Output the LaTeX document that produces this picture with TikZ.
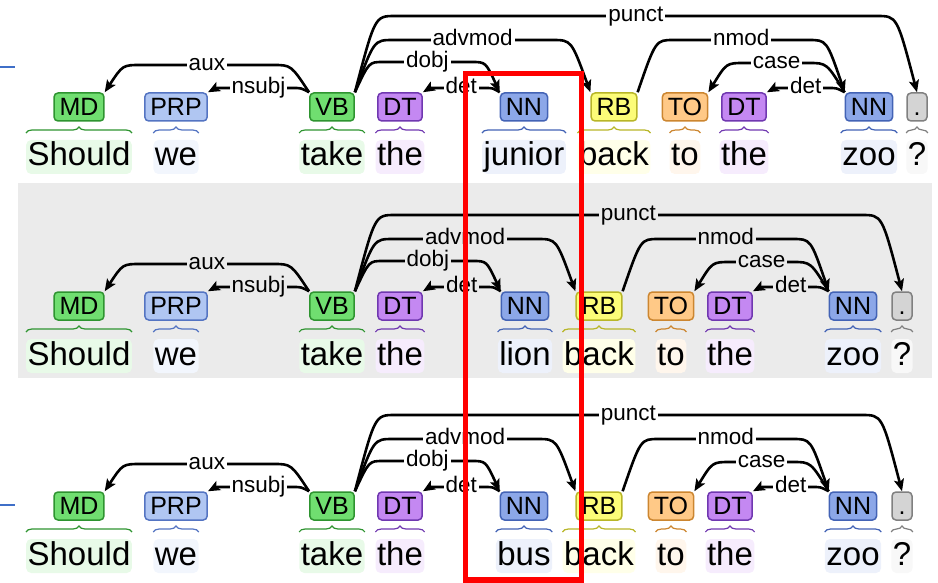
\documentclass[tikz,border=0pt]{standalone}
\usepackage{fontspec}
\setmainfont{Liberation Sans}
\usetikzlibrary{calc,arrows.meta,decorations.pathreplacing}

% part-of-speech colours: fill (F) and border (D)
\definecolor{grnF}{HTML}{70DE70}\definecolor{grnD}{HTML}{2E9430}
\definecolor{nnF}{HTML}{8CA7E8}\definecolor{nnD}{HTML}{4363B5}
\definecolor{prpF}{HTML}{B0C6F2}\definecolor{prpD}{HTML}{5474C2}
\definecolor{dtF}{HTML}{C488F2}\definecolor{dtD}{HTML}{7038B0}
\definecolor{rbF}{HTML}{FCFC78}\definecolor{rbD}{HTML}{B8B628}
\definecolor{toF}{HTML}{FFC987}\definecolor{toD}{HTML}{CC8630}
\definecolor{ptF}{HTML}{D4D4D4}\definecolor{ptD}{HTML}{808080}
\definecolor{panelgray}{HTML}{EBEBEB}
\definecolor{markblue}{HTML}{3F6FC8}

\tikzset{
  tag/.style={rounded corners=4pt, line width=1.5pt, font=\fontsize{25}{25}\selectfont,
    minimum height=28pt, minimum width=20pt, inner xsep=5.5pt, inner ysep=0pt,
    text height=17.5pt, text depth=0pt},
  word/.style={rounded corners=5pt, font=\fontsize{33}{33}\selectfont, anchor=base,
    inner xsep=1.5pt, inner ysep=1pt, text height=25pt, text depth=7pt},
  brc/.style={decorate, decoration={brace, amplitude=6pt}, line width=1.2pt},
  lblfill/.style={fill=white},
  lbl/.style={lblfill, font=\fontsize{22.5}{22.5}\selectfont, inner xsep=2pt,
    inner ysep=0.5pt, anchor=base, yshift=-5.8pt},
  deparc/.style={line width=2.6pt, -{Stealth[length=12pt,width=10pt,inset=2.5pt]}},
}

% one token: tag box, word, and the brace joining them
% #1 prefix, #2 name, #3 x, #4 y offset, #5 tag, #6 word, #7 colour
\newcommand\wordtok[7]{%
  \node[tag, fill=#7F, draw=#7D] (#1#2) at (#3,{#4+107}) {#5};
  \node[word, fill=#7F!16] (#1w#2) at (#3,{#4+166}) {#6};
  \draw[brc, draw=#7D] (#1w#2.west |- 0,{#4+133}) -- (#1w#2.east |- 0,{#4+133});
}

% dependency arc: #1 head anchor, #2 dependent anchor, #3 level, #4 relation, #5 signed bend width
\newcommand\deparc[5]{%
  \draw[deparc] (#1) .. controls ($(#1 |- 0,{#3})+({0.5*(#5)},0)$) .. ($(#1 |- 0,{#3})+({#5},0)$)
    -- node[lbl]{#4} ($(#2 |- 0,{#3})+({-(#5)},0)$)
    .. controls ($(#2 |- 0,{#3})+({-0.5*(#5)},0)$) .. (#2);}

% a whole parsed sentence
% #1 prefix, #2 y offset, #3 noun, #4..#9 x of NN, RB, TO, DT, NN, punct
\newcommand\depsentence[9]{%
  \wordtok{#1}{md}{79}{#2}{MD}{Should}{grn}
  \wordtok{#1}{prp}{176}{#2}{PRP}{we}{prp}
  \wordtok{#1}{vb}{332}{#2}{VB}{take}{grn}
  \wordtok{#1}{dt}{400}{#2}{DT}{the}{dt}
  \wordtok{#1}{nn}{#4}{#2}{NN}{#3}{nn}
  \wordtok{#1}{rb}{#5}{#2}{RB}{back}{rb}
  \wordtok{#1}{to}{#6}{#2}{TO}{to}{to}
  \wordtok{#1}{dtb}{#7}{#2}{DT}{the}{dt}
  \wordtok{#1}{zoo}{#8}{#2}{NN}{zoo}{nn}
  \wordtok{#1}{pt}{#9}{#2}{.}{?}{pt}
  \deparc{#1vb.north east}{#1pt.north}{#2+16}{punct}{40}
  \deparc{#1vb.north east}{#1rb.north west}{#2+40}{advmod}{38}
  \deparc{#1vb.north east}{#1nn.north west}{#2+62}{dobj}{28}
  \deparc{#1nn.north west}{#1dt.north east}{#2+88}{det}{-14}
  \deparc{#1vb.north west}{#1md.north east}{#2+65}{aux}{-36}
  \deparc{#1vb.north west}{#1prp.north east}{#2+88}{nsubj}{-16}
  \deparc{#1rb.north east}{#1zoo.north west}{#2+40}{nmod}{36}
  \deparc{#1zoo.north west}{#1to.north east}{#2+63}{case}{-36}
  \deparc{#1zoo.north west}{#1dtb.north east}{#2+88}{det}{-16}
}

\begin{document}
\begin{tikzpicture}[x=1pt, y=-1pt]
  \useasboundingbox (0,0) rectangle (938,583);
  % shaded band behind the middle sentence
  \fill[panelgray] (18,183) rectangle (932,378);
  % short margin marks
  \draw[markblue, line width=2pt] (0,67) -- (15,67);
  \draw[markblue, line width=2pt] (0,505) -- (15,505);

  \depsentence{pa}{0}{junior}{524}{614}{685}{744}{869}{917}
  \begin{scope}[lblfill/.style={fill=panelgray}]
    \depsentence{pb}{199}{lion}{525}{599}{671}{730}{853}{902}
  \end{scope}
  \depsentence{pc}{399}{bus}{524}{599}{671}{730}{853}{902}

  % highlight frame around the noun column
  \draw[red, line width=5.5pt] (465.5,73.5) rectangle (581.5,580);
\end{tikzpicture}
\end{document}
